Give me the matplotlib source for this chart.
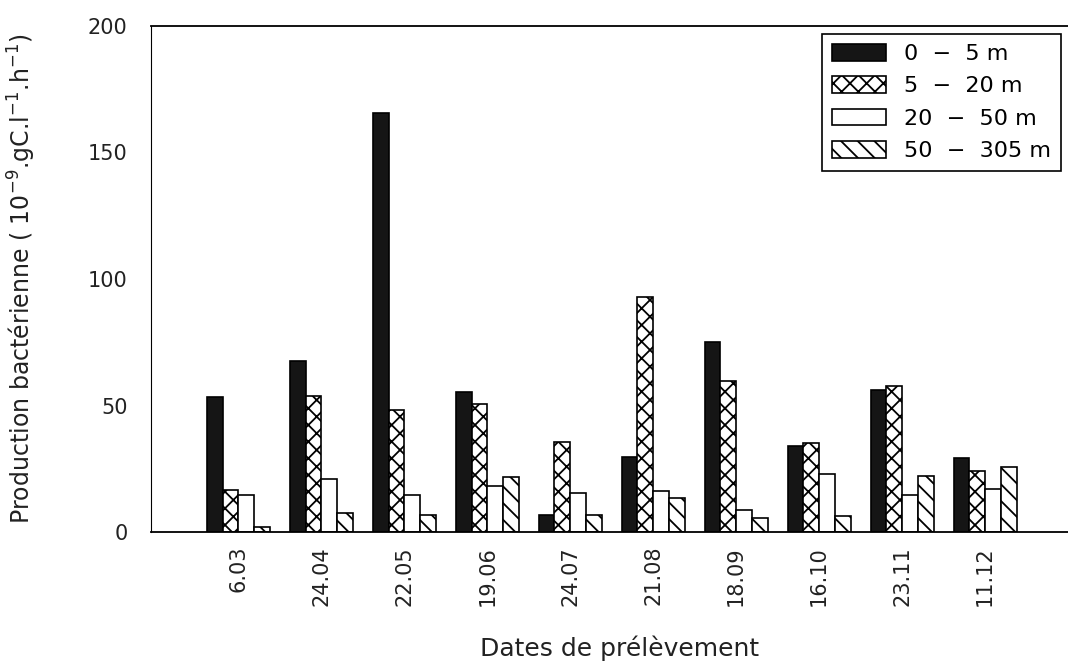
import numpy as np
import matplotlib
matplotlib.use('Agg')
import matplotlib.pyplot as plt

# sampling dates and depth layers
dates = ['6.03', '24.04', '22.05', '19.06', '24.07', '21.08', '18.09', '16.10', '23.11', '11.12']
layers = ['0  \u2212  5 m', '5  \u2212  20 m', '20  \u2212  50 m', '50  \u2212  305 m']

# bacterial production (10^-9 gC/l/h)
prod_0_5 = [53.4, 67.5, 165.5, 55.3, 6.7, 29.7, 75.0, 34.0, 56.3, 29.2]
prod_5_20 = [16.6, 53.6, 48.4, 50.5, 35.6, 92.7, 59.7, 35.0, 57.6, 24.3]
prod_20_50 = [14.6, 20.8, 14.6, 18.1, 15.3, 16.2, 8.5, 22.9, 14.6, 16.8]
prod_50_305 = [1.8, 7.6, 6.7, 21.8, 6.7, 13.5, 5.6, 6.5, 22.3, 25.5]

series = [prod_0_5, prod_5_20, prod_20_50, prod_50_305]
faces = ['#151515', 'white', 'white', 'white']
hatches = ['', 'xx', '', '\\\\']

plt.rcParams['font.family'] = 'DejaVu Sans'
plt.rcParams['hatch.linewidth'] = 1.3
plt.rcParams['hatch.color'] = 'black'

fig = plt.figure(figsize=(10.68, 6.71), dpi=100)
ax = fig.add_axes([151 / 1068, 1 - 532 / 671, (1068 - 151) / 1068, (532 - 26) / 671])

x = np.arange(len(dates))
w = 0.19
for k, vals in enumerate(series):
    ax.bar(x + (k - 1.5) * w, vals, width=w, color=faces[k], edgecolor='black',
           linewidth=1.2, hatch=hatches[k], label=layers[k])

ax.set_xlim(-1.054, 10.0)
ax.set_ylim(0, 200)
ax.set_yticks([0, 50, 100, 150, 200])
ax.set_xticks(x)
ax.set_xticklabels(dates, rotation=90)
ax.tick_params(axis='y', length=0, pad=17, labelsize=15, labelcolor='#222222')
ax.tick_params(axis='x', length=0, pad=10, labelsize=15, labelcolor='#222222')

ax.spines['right'].set_visible(False)
for s in ['top', 'left', 'bottom']:
    ax.spines[s].set_linewidth(1.3)
ax.spines['left'].set_linewidth(0.8)

ax.set_ylabel(r'Production bactérienne ( $\mathregular{10^{-9}}$.gC.l$\mathregular{^{-1}}$.h$\mathregular{^{-1}}$)',
              fontsize=17, color='#222222')
ax.yaxis.set_label_coords(-0.123, 0.5)
ax.set_xlabel('Dates de prélèvement', fontsize=18, color='#222222', labelpad=22)
ax.xaxis.set_label_coords(0.511, -0.205)

leg = ax.legend(loc='upper right', bbox_to_anchor=(0.9924, 0.984), fontsize=16,
                fancybox=False, framealpha=1, edgecolor='black', borderpad=0.45,
                borderaxespad=0, handlelength=2.45, handleheight=0.78,
                labelspacing=0.55, handletextpad=0.8)
leg.get_frame().set_linewidth(1.2)

fig.savefig('out.png', dpi=100)
